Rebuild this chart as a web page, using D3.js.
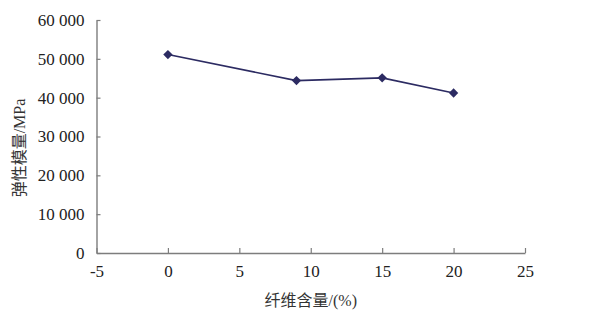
<!DOCTYPE html>
<html>
<head>
<meta charset="utf-8">
<script src="https://cdn.jsdelivr.net/npm/d3@7"></script>
<style>
  body { margin: 0; background: #fff; }
</style>
</head>
<body>
<div id="chart"></div>
<script>
// fibre content (%) and elastic modulus (MPa)
const fibre = [0, 9, 15, 20];
const modulus = [51100, 44400, 45100, 41200];
const xTicks = [-5, 0, 5, 10, 15, 20, 25];
const yTicks = [0, 10000, 20000, 30000, 40000, 50000, 60000];
const xTitle = '纤维含量/(%)';
const yTitle = '弹性模量/MPa';

const width = 589, height = 320;
const margin = { top: 20, right: 64, bottom: 67, left: 96.5 };
const plotW = width - margin.left - margin.right;
const plotH = height - margin.top - margin.bottom;
const serif = '"Liberation Serif", "Times New Roman", "Noto Sans CJK SC", serif';

const svg = d3.select('#chart').append('svg')
    .attr('width', width)
    .attr('height', height);

const g = svg.append('g')
    .attr('transform', `translate(${margin.left},${margin.top})`);

const x = d3.scaleLinear().domain([-5, 25]).range([0, plotW]);
const y = d3.scaleLinear().domain([0, 60000]).range([plotH, 0]);

const fmt = v => d3.format(',')(v).replace(/,/g, ' ');
const axisColor = '#7d7d7d';

// y axis, ticks pointing inside
const yAxis = g.append('g')
    .call(d3.axisLeft(y).tickValues(yTicks).tickSizeInner(-4).tickSizeOuter(0).tickPadding(12).tickFormat(fmt))
    .attr('font-family', serif);
yAxis.select('.domain').attr('stroke', axisColor).attr('stroke-width', 1.4);
yAxis.selectAll('.tick line').attr('stroke', axisColor).attr('stroke-width', 1.2);
yAxis.selectAll('.tick text').style('font-size', '17px').style('font-family', serif).attr('fill', '#222');

// x axis, ticks pointing up, plain hyphen for negatives
const xAxis = g.append('g')
    .attr('transform', `translate(0,${plotH})`)
    .call(d3.axisBottom(x).tickValues(xTicks).tickSizeInner(-5).tickSizeOuter(0).tickPadding(12).tickFormat(v => String(v)))
    .attr('font-family', serif);
xAxis.select('.domain').attr('stroke', axisColor).attr('stroke-width', 1.4);
xAxis.selectAll('.tick line').attr('stroke', axisColor).attr('stroke-width', 1.2);
xAxis.selectAll('.tick text').style('font-size', '17px').style('font-family', serif).attr('fill', '#222');

// titles
g.append('text')
    .attr('x', plotW / 2)
    .attr('y', plotH + 53)
    .attr('text-anchor', 'middle')
    .style('font-size', '16px')
    .style('font-family', serif)
    .attr('fill', '#333')
    .text(xTitle);

g.append('text')
    .attr('transform', `translate(${19 - margin.left},${148 - margin.top}) rotate(-90)`)
    .attr('text-anchor', 'middle')
    .attr('dy', '0.35em')
    .style('font-size', '16px')
    .style('font-family', serif)
    .attr('fill', '#333')
    .text(yTitle);

// series
const pts = fibre.map((f, i) => ({ f, m: modulus[i] }));
const lineColor = '#2c2b62';

g.append('path')
    .datum(pts)
    .attr('fill', 'none')
    .attr('stroke', lineColor)
    .attr('stroke-width', 1.6)
    .attr('d', d3.line().x(d => x(d.f)).y(d => y(d.m)));

g.selectAll('.marker')
    .data(pts)
    .enter()
    .append('path')
    .classed('marker', true)
    .attr('transform', d => `translate(${x(d.f)},${y(d.m)})`)
    .attr('d', d3.symbol().type(d3.symbolDiamond2).size(55))
    .attr('fill', lineColor);
</script>
</body>
</html>
